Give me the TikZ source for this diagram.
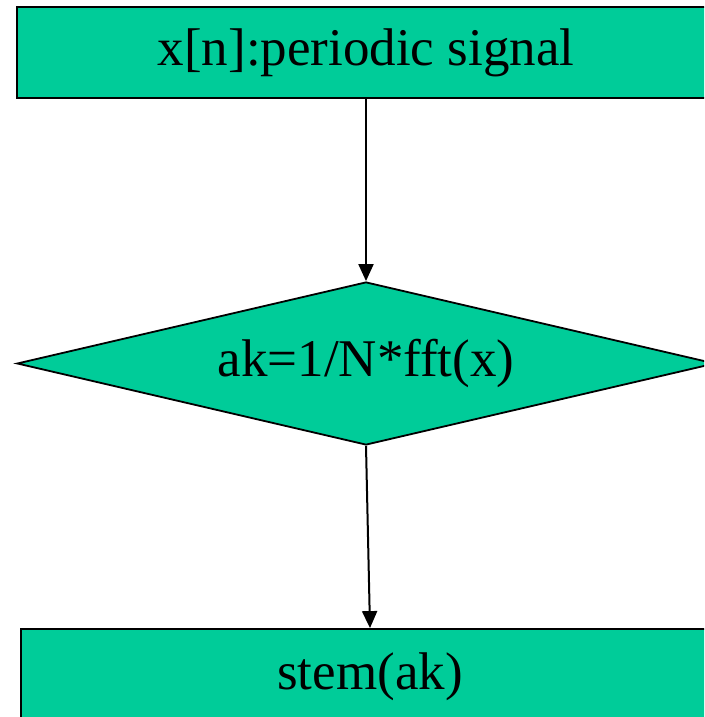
\documentclass[tikz,border=0pt]{standalone}
\usepackage{fontspec}
\setmainfont{Liberation Serif}
\usetikzlibrary{shapes.geometric, arrows.meta}

\definecolor{boxgreen}{RGB}{0,204,153}

\begin{document}
\begin{tikzpicture}[
    x=1pt, y=1pt,
    every node/.style={font=\fontsize{53}{60}\selectfont},
    block/.style={rectangle, draw=black, fill=boxgreen, line width=1.8pt,
      minimum width=698pt, inner sep=0pt},
    decision/.style={diamond, draw=black, fill=boxgreen, line width=1.8pt,
      minimum width=698pt, minimum height=163pt, aspect=4.28, inner sep=0pt},
    flow/.style={-{Triangle[length=17pt,width=15pt]}, line width=2pt}
  ]
  \useasboundingbox (0,0) rectangle (704,717);
  \clip (0,0) rectangle (704,717);

  % Boxes
  \node[block, minimum height=91pt] (sig) at (366,664.5) {x[n]:periodic signal};
  \node[decision] (coef) at (366,353.5) {ak=1/N*fft(x)};
  \node[block, minimum height=96pt] (plot) at (370,40) {stem(ak)};

  % Arrows
  \draw[flow] (sig) -- (coef);
  \draw[flow] (coef.south) -- (plot.north);
\end{tikzpicture}
\end{document}
